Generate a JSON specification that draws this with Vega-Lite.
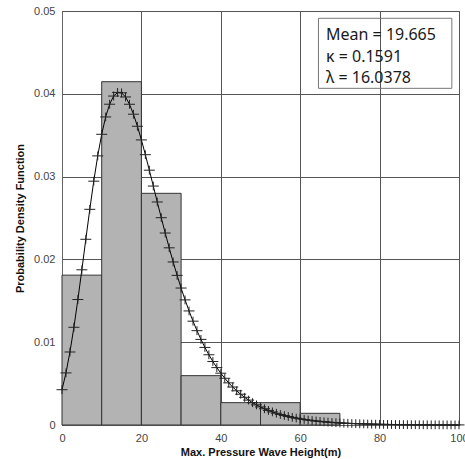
{
  "$schema": "https://vega.github.io/schema/vega-lite/v6.json",
  "width": 397,
  "height": 414,
  "autosize": {"type": "none"},
  "padding": {"left": 62, "top": 11, "right": 6, "bottom": 34},
  "background": "white",
  "datasets": {
    "hist": [
      {"x0": 0, "x1": 10, "d": 0.0181},
      {"x0": 10, "x1": 20, "d": 0.04146},
      {"x0": 20, "x1": 30, "d": 0.02798},
      {"x0": 30, "x1": 40, "d": 0.00596},
      {"x0": 40, "x1": 50, "d": 0.0027},
      {"x0": 50, "x1": 60, "d": 0.0027},
      {"x0": 60, "x1": 70, "d": 0.00141}
    ],
    "curve": [
      {"x": 0, "f": 0.004262}, {"x": 1, "f": 0.00629}, {"x": 2, "f": 0.008817}, {"x": 3, "f": 0.011801},
      {"x": 4, "f": 0.015152}, {"x": 5, "f": 0.018745}, {"x": 6, "f": 0.022428}, {"x": 7, "f": 0.026046},
      {"x": 8, "f": 0.029447}, {"x": 9, "f": 0.032502}, {"x": 10, "f": 0.035109}, {"x": 11, "f": 0.037202},
      {"x": 12, "f": 0.038741}, {"x": 13, "f": 0.039725}, {"x": 14, "f": 0.04017}, {"x": 15, "f": 0.040116},
      {"x": 16, "f": 0.039618}, {"x": 17, "f": 0.038736}, {"x": 18, "f": 0.037535}, {"x": 19, "f": 0.036079},
      {"x": 20, "f": 0.03443}, {"x": 21, "f": 0.032645}, {"x": 22, "f": 0.030773}, {"x": 23, "f": 0.028858},
      {"x": 24, "f": 0.026936}, {"x": 25, "f": 0.025037}, {"x": 26, "f": 0.023185}, {"x": 27, "f": 0.021399},
      {"x": 28, "f": 0.01969}, {"x": 29, "f": 0.018069}, {"x": 30, "f": 0.016541}, {"x": 31, "f": 0.01511},
      {"x": 32, "f": 0.013776}, {"x": 33, "f": 0.012538}, {"x": 34, "f": 0.011393}, {"x": 35, "f": 0.010338},
      {"x": 36, "f": 0.009369}, {"x": 37, "f": 0.008481}, {"x": 38, "f": 0.00767}, {"x": 39, "f": 0.00693},
      {"x": 40, "f": 0.006256}, {"x": 41, "f": 0.005644}, {"x": 42, "f": 0.005088}, {"x": 43, "f": 0.004585},
      {"x": 44, "f": 0.004129}, {"x": 45, "f": 0.003716}, {"x": 46, "f": 0.003344}, {"x": 47, "f": 0.003007},
      {"x": 48, "f": 0.002704}, {"x": 49, "f": 0.002431}, {"x": 50, "f": 0.002184}, {"x": 51, "f": 0.001962},
      {"x": 52, "f": 0.001762}, {"x": 53, "f": 0.001582}, {"x": 54, "f": 0.001421}, {"x": 55, "f": 0.001275},
      {"x": 56, "f": 0.001145}, {"x": 57, "f": 0.001027}, {"x": 58, "f": 0.000922}, {"x": 59, "f": 0.000827},
      {"x": 60, "f": 0.000742}, {"x": 61, "f": 0.000666}, {"x": 62, "f": 0.000597}, {"x": 63, "f": 0.000536},
      {"x": 64, "f": 0.000481}, {"x": 65, "f": 0.000431}, {"x": 66, "f": 0.000386}, {"x": 67, "f": 0.000347},
      {"x": 68, "f": 0.000311}, {"x": 69, "f": 0.000279}, {"x": 70, "f": 0.00025}, {"x": 71, "f": 0.000224},
      {"x": 72, "f": 0.000201}, {"x": 73, "f": 0.00018}, {"x": 74, "f": 0.000162}, {"x": 75, "f": 0.000145},
      {"x": 76, "f": 0.00013}, {"x": 77, "f": 0.000117}, {"x": 78, "f": 0.000104}, {"x": 79, "f": 0.0000936},
      {"x": 80, "f": 0.000084}, {"x": 81, "f": 0.0000753}, {"x": 82, "f": 0.0000675}, {"x": 83, "f": 0.0000605},
      {"x": 84, "f": 0.0000542}, {"x": 85, "f": 0.0000486}, {"x": 86, "f": 0.0000436}, {"x": 87, "f": 0.0000391},
      {"x": 88, "f": 0.0000351}, {"x": 89, "f": 0.0000314}, {"x": 90, "f": 0.0000282}, {"x": 91, "f": 0.0000252},
      {"x": 92, "f": 0.0000226}, {"x": 93, "f": 0.0000203}, {"x": 94, "f": 0.0000182}, {"x": 95, "f": 0.0000163},
      {"x": 96, "f": 0.0000146}, {"x": 97, "f": 0.0000131}, {"x": 98, "f": 0.0000118}, {"x": 99, "f": 0.0000106},
      {"x": 100, "f": 0.0000095}
    ],
    "box": [
      {"bx0": 64.6, "bx1": 98.2, "by0": 0.04066, "by1": 0.04912}
    ],
    "note": [
      {"tx": 66.5, "ty": 0.0465, "label": "Mean = 19.665"},
      {"tx": 66.5, "ty": 0.04388, "label": "κ = 0.1591"},
      {"tx": 66.5, "ty": 0.04127, "label": "λ = 16.0378"}
    ]
  },
  "layer": [
    {
      "data": {"name": "hist"},
      "mark": {"type": "rect", "fill": "#b3b3b3", "stroke": "#333333", "strokeWidth": 1},
      "encoding": {
        "x": {"field": "x0", "type": "quantitative", "title": "Max. Pressure Wave Height(m)",
          "scale": {"domain": [0, 100], "nice": false, "zero": false},
          "axis": {"values": [0, 20, 40, 60, 80, 100], "labelPadding": 7, "titlePadding": 3, "labelFlush": false, "labelOverlap": false}},
        "x2": {"field": "x1"},
        "y": {"field": "d", "type": "quantitative", "title": "Probability Density Function",
          "scale": {"domain": [0, 0.05], "nice": false},
          "axis": {"values": [0, 0.01, 0.02, 0.03, 0.04, 0.05], "format": ".2~f", "labelPadding": 7, "titlePadding": 8, "labelFlush": false, "labelOverlap": false}},
        "y2": {"datum": 0}
      }
    },
    {
      "data": {"name": "box"},
      "mark": {"type": "rect", "fill": "transparent", "stroke": "#777777", "strokeWidth": 1},
      "encoding": {
        "x": {"field": "bx0", "type": "quantitative", "title": "Max. Pressure Wave Height(m)"},
        "x2": {"field": "bx1"},
        "y": {"field": "by0", "type": "quantitative", "title": "Probability Density Function"},
        "y2": {"field": "by1"}
      }
    },
    {
      "data": {"name": "curve"},
      "mark": {"type": "line", "color": "#000000", "strokeWidth": 1},
      "encoding": {
        "x": {"field": "x", "type": "quantitative", "title": "Max. Pressure Wave Height(m)"},
        "y": {"field": "f", "type": "quantitative", "title": "Probability Density Function"}
      }
    },
    {
      "data": {"name": "curve"},
      "mark": {"type": "point", "shape": "M-1,0L1,0M0,-0.8L0,0.8", "filled": false, "color": "#222222", "strokeWidth": 1, "size": 121, "opacity": 1},
      "encoding": {
        "x": {"field": "x", "type": "quantitative", "title": "Max. Pressure Wave Height(m)"},
        "y": {"field": "f", "type": "quantitative", "title": "Probability Density Function"}
      }
    },
    {
      "data": {"name": "note"},
      "mark": {"type": "text", "align": "left", "baseline": "alphabetic", "font": "Noto Sans", "fontSize": 16, "color": "#1a1a1a"},
      "encoding": {
        "x": {"field": "tx", "type": "quantitative", "title": "Max. Pressure Wave Height(m)"},
        "y": {"field": "ty", "type": "quantitative", "title": "Probability Density Function"},
        "text": {"field": "label"}
      }
    }
  ],
  "config": {
    "view": {"stroke": "#666666", "strokeWidth": 1},
    "axis": {
      "grid": true, "gridColor": "#555555", "gridOpacity": 1, "gridWidth": 1,
      "domainColor": "#666666", "ticks": false,
      "labelFont": "Liberation Sans", "labelFontSize": 11, "labelColor": "#444444",
      "titleFont": "Liberation Sans", "titleFontSize": 11, "titleFontWeight": "bold", "titleColor": "#111111"
    }
  }
}
